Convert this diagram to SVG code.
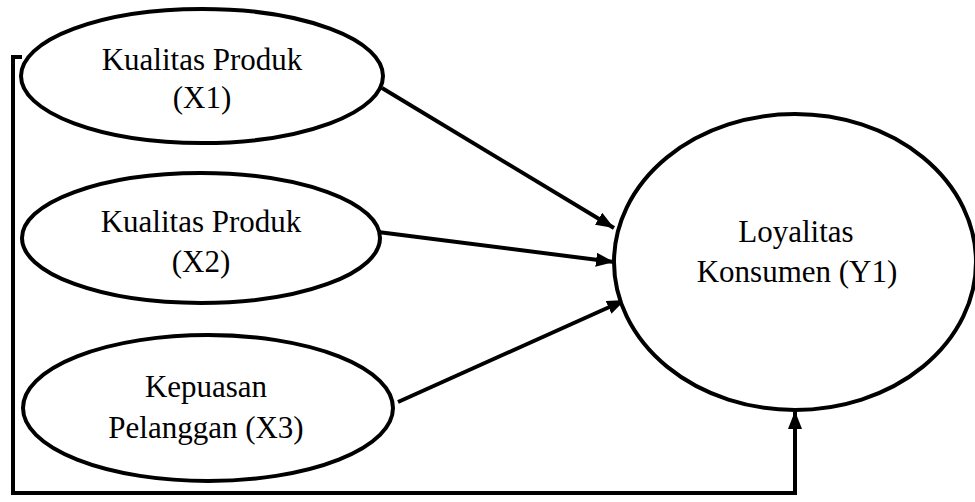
<svg xmlns="http://www.w3.org/2000/svg" width="975" height="502" viewBox="0 0 975 502">
<style>
.n{fill:#fff;stroke:#000;stroke-width:4}
.t{font-family:"Liberation Serif","Times New Roman",serif;font-size:31px;fill:#000;text-anchor:middle}
.c{stroke:#000;stroke-width:4;fill:none}
</style>
<defs>
<marker id="ah" viewBox="0 0 18 14" refX="18" refY="7" markerWidth="18" markerHeight="14" markerUnits="userSpaceOnUse" orient="auto">
<path d="M0,0 L18,7 L0,14 Z" fill="#000"/>
</marker>
</defs>
<rect width="975" height="502" fill="#fff"/>
<g id="connectors">
<path class="c" d="M22,57 H13 V493 H795 V425"/>
<line class="c" x1="382" y1="88" x2="614" y2="228" marker-end="url(#ah)"/>
<line class="c" x1="378" y1="232" x2="614" y2="262" marker-end="url(#ah)"/>
<line class="c" x1="398" y1="402" x2="625" y2="300" marker-end="url(#ah)"/>
<line class="c" x1="795" y1="432" x2="795" y2="411" marker-end="url(#ah)"/>
</g>
<g id="x1">
<ellipse class="n" cx="202" cy="76" rx="181" ry="67"/>
<text class="t" x="202" y="70">Kualitas Produk</text>
<text class="t" x="202" y="108">(X1)</text>
</g>
<g id="x2">
<ellipse class="n" cx="201" cy="238" rx="179" ry="65"/>
<text class="t" x="201" y="232">Kualitas Produk</text>
<text class="t" x="201" y="272">(X2)</text>
</g>
<g id="x3">
<ellipse class="n" cx="208" cy="408" rx="185" ry="73"/>
<text class="t" x="206" y="397">Kepuasan</text>
<text class="t" x="206" y="438">Pelanggan (X3)</text>
</g>
<g id="y1">
<ellipse class="n" cx="795" cy="262" rx="181" ry="148"/>
<text class="t" x="796" y="242">Loyalitas</text>
<text class="t" x="797" y="282">Konsumen (Y1)</text>
</g>
</svg>
